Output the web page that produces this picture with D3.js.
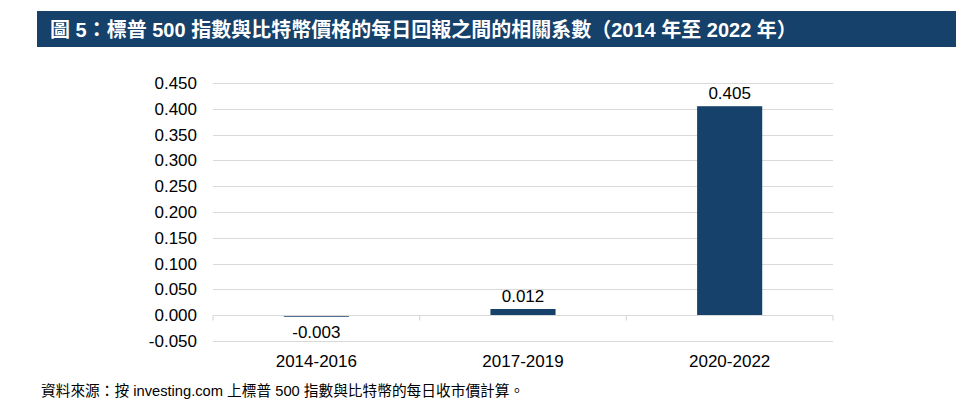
<!DOCTYPE html>
<html>
<head>
<meta charset="utf-8">
<script src="https://cdn.jsdelivr.net/npm/d3@7"></script>
<style>
  html, body { margin: 0; padding: 0; background: #fff; }
  svg { display: block; font-family: "Liberation Sans", Arial, "Noto Sans CJK TC", sans-serif; }
</style>
</head>
<body>
<div id="chart"></div>
<script>
const TITLE = "圖 5：標普 500 指數與比特幣價格的每日回報之間的相關系數（2014 年至 2022 年）";
const SOURCE = "資料來源：按 investing.com 上標普 500 指數與比特幣的每日收市價計算。";
const periods = ["2014-2016", "2017-2019", "2020-2022"];
const correlations = [-0.003, 0.012, 0.405];
const yTicks = [-0.05, 0, 0.05, 0.1, 0.15, 0.2, 0.25, 0.3, 0.35, 0.4, 0.45];

const WIDTH = 964;
const HEIGHT = 415;
const NAVY = "#15416a";
const GRID = "#d9d9d9";
const PLOT = { left: 213, right: 833, top: 83, bottom: 341 };

const svg = d3.select("#chart")
  .append("svg")
  .attr("width", WIDTH)
  .attr("height", HEIGHT);

// title bar
svg.append("rect")
  .attr("x", 37).attr("y", 11)
  .attr("width", 919).attr("height", 36)
  .attr("fill", NAVY);

svg.append("text")
  .attr("x", 50).attr("y", 37)
  .attr("fill", "#fff")
  .attr("font-size", 20)
  .attr("font-weight", "bold")
  .text(TITLE);

const x = d3.scaleBand()
  .domain(periods)
  .range([PLOT.left, PLOT.right])
  .paddingInner(0.685)
  .paddingOuter(0.3425);

const y = d3.scaleLinear()
  .domain([-0.05, 0.45])
  .range([PLOT.bottom, PLOT.top]);

// gridlines
svg.append("g")
  .selectAll("line")
  .data(yTicks.filter((d) => d !== 0))
  .join("line")
  .attr("x1", PLOT.left).attr("x2", PLOT.right)
  .attr("y1", (d) => Math.round(y(d)) + 0.5)
  .attr("y2", (d) => Math.round(y(d)) + 0.5)
  .attr("stroke", GRID)
  .attr("stroke-width", 1.2);

// y axis labels
svg.append("g")
  .selectAll("text")
  .data(yTicks)
  .join("text")
  .attr("x", 197)
  .attr("y", (d) => y(d))
  .attr("dy", "0.35em")
  .attr("text-anchor", "end")
  .attr("font-size", 17)
  .attr("fill", "#000")
  .text((d) => d3.format(".3f")(d).replace("−", "-"));

// bars
svg.append("g")
  .selectAll("rect")
  .data(correlations)
  .join("rect")
  .attr("x", (d, i) => x(periods[i]))
  .attr("width", x.bandwidth())
  .attr("y", (d) => y(Math.max(0, d)))
  .attr("height", (d) => Math.max(1.5, Math.abs(y(d) - y(0))))
  .attr("fill", NAVY);

// zero axis with ticks between categories
const zeroY = Math.round(y(0)) + 0.5;
const axis = svg.append("g").attr("stroke", GRID).attr("stroke-width", 1.2);
axis.append("line")
  .attr("x1", PLOT.left).attr("x2", PLOT.right)
  .attr("y1", zeroY).attr("y2", zeroY);
const step = x.step();
axis.selectAll("line.tick")
  .data(d3.range(periods.length + 1))
  .join("line")
  .attr("class", "tick")
  .attr("x1", (i) => PLOT.left + i * step)
  .attr("x2", (i) => PLOT.left + i * step)
  .attr("y1", zeroY).attr("y2", zeroY + 5);

// value labels
svg.append("g")
  .selectAll("text")
  .data(correlations)
  .join("text")
  .attr("x", (d, i) => x(periods[i]) + x.bandwidth() / 2)
  .attr("y", (d) => d >= 0 ? y(d) - 7 : y(0) + 23)
  .attr("text-anchor", "middle")
  .attr("font-size", 17)
  .attr("fill", "#000")
  .text((d) => d3.format(".3f")(d).replace("−", "-"));

// category labels
svg.append("g")
  .selectAll("text")
  .data(periods)
  .join("text")
  .attr("x", (d) => x(d) + x.bandwidth() / 2)
  .attr("y", 367)
  .attr("text-anchor", "middle")
  .attr("font-size", 17)
  .attr("fill", "#000")
  .text((d) => d);

// source note
svg.append("text")
  .attr("x", 41).attr("y", 396)
  .attr("font-size", 14.7)
  .attr("fill", "#000")
  .text(SOURCE);
</script>
</body>
</html>
